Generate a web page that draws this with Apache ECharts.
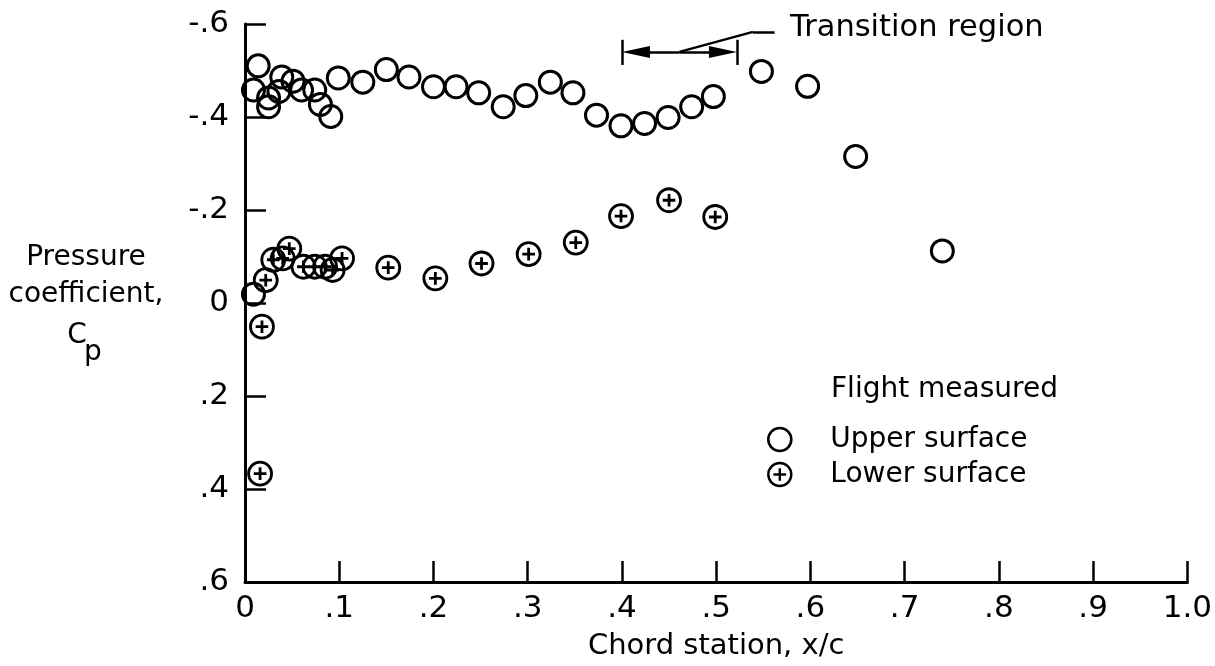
<!DOCTYPE html>
<html>
<head>
<meta charset="utf-8">
<script src="https://cdn.jsdelivr.net/npm/echarts@6/dist/echarts.min.js"></script>
<style>
html,body{margin:0;padding:0;background:#fff;}
#chart{width:1215px;height:666px;}
</style>
</head>
<body>
<div id="chart"></div>
<script>
// ---- data ----
var upperX  = [0.009, 0.014, 0.009, 0.025, 0.025, 0.036, 0.039, 0.051, 0.060, 0.074, 0.080, 0.091, 0.099, 0.125, 0.150, 0.174, 0.200, 0.224, 0.248, 0.274, 0.298, 0.324, 0.348, 0.373, 0.399, 0.424, 0.449, 0.474, 0.497, 0.548, 0.597, 0.648, 0.740];
var upperCp = [-0.019, -0.510, -0.458, -0.441, -0.422, -0.455, -0.486, -0.477, -0.458, -0.458, -0.427, -0.401, -0.484, -0.475, -0.502, -0.486, -0.465, -0.465, -0.452, -0.422, -0.446, -0.475, -0.452, -0.404, -0.381, -0.386, -0.399, -0.422, -0.444, -0.498, -0.466, -0.315, -0.112];

var lowerX  = [0.016, 0.018, 0.022, 0.030, 0.040, 0.047, 0.062, 0.074, 0.085, 0.093, 0.103, 0.152, 0.202, 0.251, 0.301, 0.351, 0.399, 0.450, 0.499];
var lowerCp = [0.367, 0.051, -0.049, -0.093, -0.096, -0.117, -0.078, -0.078, -0.078, -0.071, -0.096, -0.076, -0.053, -0.085, -0.105, -0.130, -0.187, -0.221, -0.185];

var xTickLabels = ['0', '.1', '.2', '.3', '.4', '.5', '.6', '.7', '.8', '.9', '1.0'];
var yTickLabels = ['-.6', '-.4', '-.2', '0', '.2', '.4', '.6'];

// transition region annotation (data coordinates)
var transitionX  = [0.400, 0.522];
var transitionCp = -0.540;
var transitionBar = [-0.566, -0.512];
var leaderX  = [0.461, 0.539, 0.562];
var leaderCp = [-0.540, -0.583, -0.583];

var FONT = "'DejaVu Sans', sans-serif";
var plusCircle = 'path://M0,-10 A10,10 0 1,1 0,10 A10,10 0 1,1 0,-10 Z M-5.5,0 L5.5,0 M0,-5.5 L0,5.5';

function zip(a, b) { return a.map(function (v, i) { return [v, b[i]]; }); }

var arrowLen = 28, arrowW = 12;
var arrowDx = (arrowLen / 2) / 943; // keep arrow tip on the bar

var chart = echarts.init(document.getElementById('chart'), null, {renderer: 'canvas'});
chart.setOption({
  animation: false,
  backgroundColor: '#fff',
  textStyle: {fontFamily: FONT, color: '#000'},
  grid: {left: 245, right: 27, top: 24, bottom: 80, containLabel: false},
  xAxis: {
    type: 'value', min: 0, max: 1, interval: 0.1,
    axisLine: {show: true, onZero: false, lineStyle: {color: '#000', width: 3}},
    axisTick: {show: true, inside: true, length: 21, lineStyle: {color: '#000', width: 2.5}},
    splitLine: {show: false},
    axisLabel: {
      margin: 11, fontSize: 31, color: '#000', fontFamily: FONT,
      formatter: function (v) { return xTickLabels[Math.round(v * 10)]; }
    },
    name: 'Chord station, x/c', nameLocation: 'middle', nameGap: 50,
    nameTextStyle: {fontSize: 29, color: '#000', fontFamily: FONT}
  },
  yAxis: {
    type: 'value', min: -0.6, max: 0.6, interval: 0.2, inverse: true,
    axisLine: {show: true, onZero: false, lineStyle: {color: '#000', width: 3}},
    axisTick: {show: true, inside: true, length: 21, lineStyle: {color: '#000', width: 2.5}},
    splitLine: {show: false},
    axisLabel: {
      margin: 16, fontSize: 31, color: '#000', fontFamily: FONT,
      formatter: function (v) { return yTickLabels[Math.round((v + 0.6) * 5)]; }
    }
  },
  legend: {
    orient: 'vertical', left: 762, top: 419, itemGap: 4,
    itemWidth: 23, itemHeight: 23,
    textStyle: {fontSize: 28, color: '#000', fontFamily: FONT, padding: [0, 0, 0, 34], lineHeight: 31},
    data: [
      {name: 'Upper surface', icon: 'circle', itemStyle: {color: 'rgba(0,0,0,0)', borderColor: '#000', borderWidth: 2.6}},
      {name: 'Lower surface', icon: plusCircle, itemStyle: {color: 'rgba(0,0,0,0)', borderColor: '#000', borderWidth: 2.4}}
    ]
  },
  graphic: [
    {type: 'text', left: 831, top: 376, style: {text: 'Flight measured', font: '28px ' + FONT, fill: '#000'}},
    {type: 'text', left: 790, top: 13, style: {text: 'Transition region', font: '30.5px ' + FONT, fill: '#000'}},
    {type: 'text', x: 86, y: 258, style: {text: 'Pressure', font: '28px ' + FONT, fill: '#000', align: 'center', verticalAlign: 'middle'}},
    {type: 'text', x: 86, y: 295, style: {text: 'coefficient,', font: '28px ' + FONT, fill: '#000', align: 'center', verticalAlign: 'middle'}},
    {type: 'text', x: 77, y: 336, style: {text: 'C', font: '28px ' + FONT, fill: '#000', align: 'center', verticalAlign: 'middle'}},
    {type: 'text', x: 93, y: 353, style: {text: 'p', font: '28px ' + FONT, fill: '#000', align: 'center', verticalAlign: 'middle'}}
  ],
  series: [
    {
      name: 'Upper surface', type: 'scatter', symbol: 'circle', symbolSize: 22,
      itemStyle: {color: 'rgba(0,0,0,0)', borderColor: '#000', borderWidth: 3, opacity: 1},
      emphasis: {disabled: true},
      data: zip(upperX, upperCp),
      markLine: {
        silent: true, animation: false,
        label: {show: false},
        lineStyle: {color: '#000', width: 2.5, type: 'solid'},
        symbol: ['none', 'none'],
        data: [
          [{coord: [leaderX[0], transitionCp], symbol: 'none'},
           {coord: [transitionX[0] + arrowDx, transitionCp], symbol: 'triangle', symbolSize: [arrowW, arrowLen]}],
          [{coord: [leaderX[0], transitionCp], symbol: 'none'},
           {coord: [transitionX[1] - arrowDx, transitionCp], symbol: 'triangle', symbolSize: [arrowW, arrowLen]}],
          [{coord: [transitionX[0], transitionBar[0]]}, {coord: [transitionX[0], transitionBar[1]]}],
          [{coord: [transitionX[1], transitionBar[0]]}, {coord: [transitionX[1], transitionBar[1]]}],
          [{coord: [leaderX[0], leaderCp[0]]}, {coord: [leaderX[1], leaderCp[1]]}],
          [{coord: [leaderX[1], leaderCp[1]]}, {coord: [leaderX[2], leaderCp[2]]}]
        ]
      }
    },
    {
      name: 'Lower surface', type: 'scatter', symbol: plusCircle, symbolSize: 23,
      itemStyle: {color: 'rgba(0,0,0,0)', borderColor: '#000', borderWidth: 2.8, opacity: 1},
      emphasis: {disabled: true},
      data: zip(lowerX, lowerCp)
    }
  ]
});
</script>
</body>
</html>
